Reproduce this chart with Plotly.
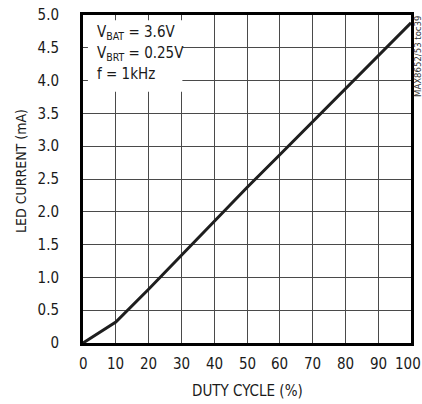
import plotly.graph_objects as go

# LED current vs PWM duty cycle
duty_cycle = [0, 10, 20, 30, 40, 50, 60, 70, 80, 90, 100]
led_current = [0.0, 0.32, 0.82, 1.34, 1.86, 2.37, 2.87, 3.37, 3.87, 4.37, 4.88]

x_ticks = [0, 10, 20, 30, 40, 50, 60, 70, 80, 90, 100]
y_ticks = [0, 0.5, 1.0, 1.5, 2.0, 2.5, 3.0, 3.5, 4.0, 4.5, 5.0]
y_tick_text = ["0", "0.5", "1.0", "1.5", "2.0", "2.5", "3.0", "3.5", "4.0", "4.5", "5.0"]

FONT = "Liberation Sans Narrow, Arial Narrow, DejaVu Sans Condensed, sans-serif"
GRID = "#4a4a4a"
TXT = "#1a1a1a"

# plot area in pixels
L, R, T, B = 83, 411, 15, 343
PW, PH = R - L, B - T

fig = go.Figure()
fig.add_trace(go.Scatter(
    x=duty_cycle, y=led_current, mode="lines",
    line=dict(color="#1e1e1e", width=3),
    hoverinfo="skip", showlegend=False,
))

# white patch behind the condition text
fig.add_shape(type="rect", xref="x", yref="y", x0=1.5, x1=30.3, y0=3.83, y1=4.92,
              fillcolor="white", line=dict(width=0), layer="above")

cond_lines = ["V<sub>BAT</sub> = 3.6V", "V<sub>BRT</sub> = 0.25V", "f = 1kHz"]
cond_y = [32, 53, 74]
for txt, yp in zip(cond_lines, cond_y):
    fig.add_annotation(text=txt, xref="paper", yref="paper",
                       x=(95 - L) / PW, y=(B - yp) / PH,
                       xanchor="left", yanchor="middle", showarrow=False,
                       font=dict(family=FONT, size=15, color=TXT))

# x tick labels drawn as annotations so the last one can sit at the figure edge
for v in x_ticks:
    fig.add_annotation(text=str(v), xref="x", yref="paper",
                       x=v, y=(B - 364) / PH, xshift=-3 if v == 100 else 0,
                       xanchor="center", yanchor="middle", showarrow=False,
                       font=dict(family=FONT, size=15, color=TXT))

fig.add_annotation(text="LED CURRENT (mA)", xref="paper", yref="paper",
                   x=(21 - L) / PW, y=(B - 171) / PH, textangle=-90,
                   xanchor="center", yanchor="middle", showarrow=False,
                   font=dict(family=FONT, size=14, color=TXT))
fig.add_annotation(text="DUTY CYCLE (%)", xref="paper", yref="paper",
                   x=(247 - L) / PW, y=(B - 391) / PH,
                   xanchor="center", yanchor="middle", showarrow=False,
                   font=dict(family=FONT, size=15, color=TXT))
fig.add_annotation(text="MAX8652/53 toc39", xref="paper", yref="paper",
                   x=(417 - L) / PW, y=(B - 57) / PH, textangle=-90,
                   xanchor="center", yanchor="middle", showarrow=False,
                   font=dict(family=FONT, size=9.5, color="#333"))

fig.update_layout(
    width=422, height=404,
    margin=dict(l=L, r=422 - R, t=T, b=404 - B, autoexpand=False),
    paper_bgcolor="white", plot_bgcolor="white",
    font=dict(family=FONT, size=15, color=TXT),
)
fig.update_xaxes(
    range=[0, 100], tickvals=x_ticks, showticklabels=False,
    showgrid=True, gridcolor=GRID, gridwidth=1, zeroline=False,
    showline=True, linecolor="black", linewidth=3, mirror=True,
    ticks="", automargin=False,
)
fig.update_yaxes(
    range=[0, 5], tickvals=y_ticks, ticktext=y_tick_text,
    showgrid=True, gridcolor=GRID, gridwidth=1, zeroline=False,
    showline=True, linecolor="black", linewidth=3, mirror=True,
    ticks="", ticklabelstandoff=18, automargin=False,
)

fig.write_html("out.html")
